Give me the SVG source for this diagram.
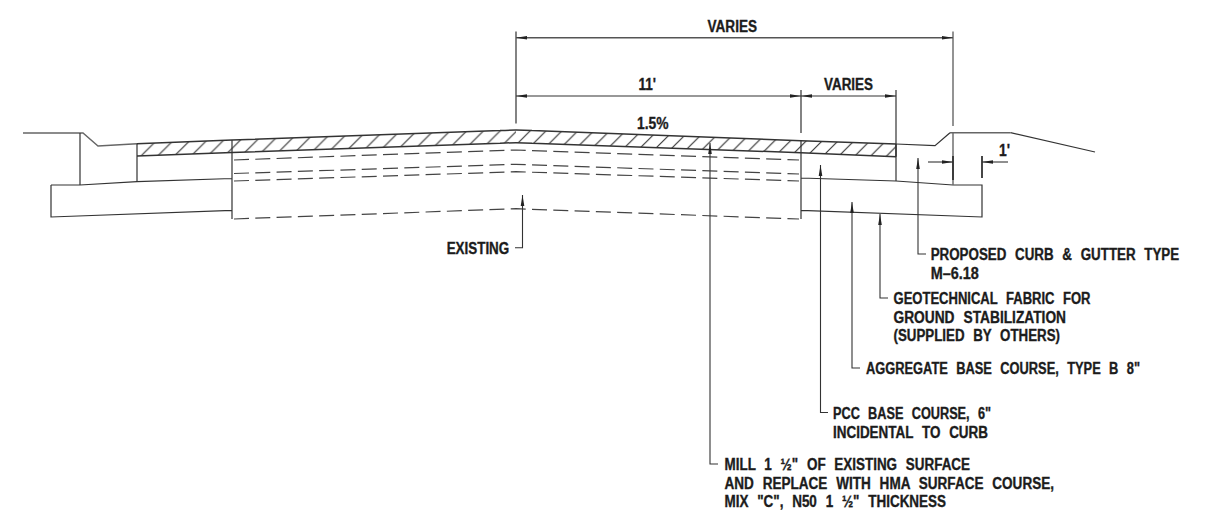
<svg xmlns="http://www.w3.org/2000/svg" width="1209" height="518" viewBox="0 0 1209 518">
<style>
text{font-family:"Liberation Sans Narrow","Liberation Sans",Arial,sans-serif;font-weight:700;font-size:16px;fill:#1c1c1c;word-spacing:6px;stroke:#1c1c1c;stroke-width:.35px}
.l{fill:none;stroke:#333;stroke-width:1.2}
.g{fill:none;stroke:#666;stroke-width:1.4}
.d{fill:none;stroke:#444;stroke-width:1.2;stroke-dasharray:15 6.3}
.h{stroke:#333;stroke-width:1.15;fill:none}
.a{fill:none;stroke:#333;stroke-width:1.1;marker-end:url(#ar)}
.b{fill:none;stroke:#333;stroke-width:1.1;marker-start:url(#ars);marker-end:url(#ar)}
</style>
<defs>
<marker id="ar" markerUnits="userSpaceOnUse" markerWidth="12" markerHeight="6" refX="11" refY="3" orient="auto"><path d="M0,1.2 L11,3 L0,4.8 Z" fill="#222"/></marker>
<marker id="ars" markerUnits="userSpaceOnUse" markerWidth="12" markerHeight="6" refX="1" refY="3" orient="auto"><path d="M12,1.2 L1,3 L12,4.8 Z" fill="#222"/></marker>
<pattern id="hl" patternUnits="userSpaceOnUse" x="13.1" y="0" width="16.7" height="16.7"><path class="h" d="M-2,18.7 L18.7,-2 M-2,2 L2,-2 M14.7,18.7 L18.7,14.7"/></pattern>
<pattern id="hr" patternUnits="userSpaceOnUse" x="9.1" y="0" width="15.9" height="15.9"><path class="h" d="M-2,17.9 L17.9,-2 M-2,2 L2,-2 M13.9,17.9 L17.9,13.9"/></pattern>
</defs>
<g id="surface-hatch">
<polygon points="137,143.7 232,140 516,130 516,142.7 232,152.5 137,156" fill="url(#hl)"/>
<polygon points="516,130 801,140.7 896,144 896,156.7 801,152.7 516,142.7" fill="url(#hr)"/>
<path class="l" style="stroke-width:1.5" d="M137,143.7 L232,140 L500,130.6 Q516,129.6 532,130.6 L801,140.7 L896,144 M137,156 L232,152.5 L500,143.3 Q516,142.3 532,143.3 L801,152.7 L896,156.7 M896,144V156.7"/>
</g>
<g id="curb-left">
<path class="g" d="M23,133 H83 L98,146 L137,143.7"/>
<path class="l" d="M80,133 V185 M137,143.7 V181.7"/>
</g>
<g id="base-left">
<path class="l" d="M51,185 H80 L137,181.7 L232,178.5 M51,185 V217 L232,210.3 M232,140 V219"/>
</g>
<g id="existing-dashed">
<path class="d" d="M234,160 L516,150 L799,160"/>
<path class="d" d="M234,173.5 L516,164.3 L799,174"/>
<path class="d" d="M234,181 L516,171.7 L799,181"/>
<path class="d" d="M234,219 L516,208.7 L799,219"/>
</g>
<g id="base-right">
<path class="l" d="M801,140.7 V219 M801,178 L896,181 L953,185 H982 V217 L801,210.3"/>
<path class="l" d="M896,90 V181"/>
</g>
<g id="curb-right">
<path class="l" d="M896,144 L935,145.7 L950,132.7"/>
<path class="g" d="M950,132.7 H1010.5"/>
<path class="l" d="M1010.5,132.7 L1095,152"/>
</g>
<g id="connectors">
<path class="l" d="M516,31.5 V123.5 M801,90 V133"/>
<path class="g" d="M953,31.5 V126 M953,133 V185"/>
<path class="l" style="stroke-width:1.8" d="M953,156 V180 M982,156 V178"/>
<path class="b" style="stroke:#555;stroke-width:1.4" d="M516,37.7 H953"/>
<path class="b" d="M516,96 H801"/>
<path class="b" d="M801,96 H896"/>
<path class="a" d="M928,162 H953"/>
<path class="a" d="M1008,162 H982"/>
<path class="a" d="M515,247.7 H522.5 V195"/>
<path class="a" d="M718,464 H710 V143"/>
<path class="a" d="M828,412.5 H820.5 V165"/>
<path class="a" d="M860,368 H852 V202"/>
<path class="a" d="M888,298 H880 V214"/>
<path class="a" d="M926,254 H918 V158"/>
</g>
<g id="dim-labels">
<text x="707.5" y="31.7" textLength="49.5" lengthAdjust="spacingAndGlyphs">VARIES</text>
<text x="638.5" y="90" textLength="17.5" lengthAdjust="spacingAndGlyphs">11'</text>
<text x="824" y="90" textLength="49" lengthAdjust="spacingAndGlyphs">VARIES</text>
<text x="637" y="129" textLength="31.5" lengthAdjust="spacingAndGlyphs">1.5%</text>
<text x="999" y="156" textLength="11" lengthAdjust="spacingAndGlyphs">1'</text>
</g>
<g id="label-existing"><text x="446.7" y="254" textLength="62.5" lengthAdjust="spacingAndGlyphs">EXISTING</text></g>
<g id="label-curb">
<text x="930.7" y="260" textLength="248.5" lengthAdjust="spacingAndGlyphs">PROPOSED CURB &amp; GUTTER TYPE</text>
<text x="930.7" y="279" textLength="48" lengthAdjust="spacingAndGlyphs">M–6.18</text>
</g>
<g id="label-fabric">
<text x="893.5" y="304" textLength="197" lengthAdjust="spacingAndGlyphs">GEOTECHNICAL FABRIC FOR</text>
<text x="893.5" y="323" textLength="172.5" lengthAdjust="spacingAndGlyphs">GROUND STABILIZATION</text>
<text x="893.5" y="341" textLength="166.5" lengthAdjust="spacingAndGlyphs">(SUPPLIED BY OTHERS)</text>
</g>
<g id="label-aggregate"><text x="866" y="374" textLength="274" lengthAdjust="spacingAndGlyphs">AGGREGATE BASE COURSE, TYPE B 8"</text></g>
<g id="label-pcc">
<text x="833" y="419" textLength="158" lengthAdjust="spacingAndGlyphs">PCC BASE COURSE, 6"</text>
<text x="833" y="438" textLength="155" lengthAdjust="spacingAndGlyphs">INCIDENTAL TO CURB</text>
</g>
<g id="label-mill">
<text x="724.5" y="470" textLength="245.5" lengthAdjust="spacingAndGlyphs">MILL 1 ½" OF EXISTING SURFACE</text>
<text x="724.5" y="489" textLength="329.5" lengthAdjust="spacingAndGlyphs">AND REPLACE WITH HMA SURFACE COURSE,</text>
<text x="724.5" y="507" textLength="221.5" lengthAdjust="spacingAndGlyphs">MIX "C", N50 1 ½" THICKNESS</text>
</g>
</svg>
